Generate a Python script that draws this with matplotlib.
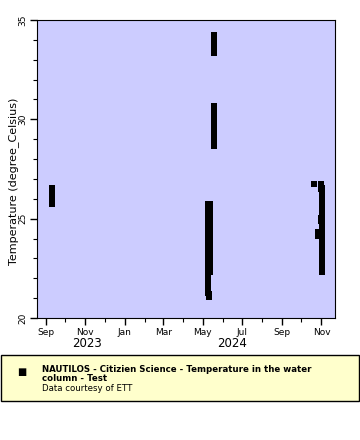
import numpy as np
import matplotlib
matplotlib.use("Agg")
import matplotlib.pyplot as plt
import matplotlib.dates as mdates
from matplotlib.patches import Rectangle
from datetime import datetime

# profiles: date -> temperatures (degree_Celsius)
dates = [
    "2023-09-10", "2024-05-09", "2024-05-10", "2024-05-12", "2024-05-18",
    "2024-10-20", "2024-10-27", "2024-10-31", "2024-11-02",
]
temps = [
    [25.75, 25.9, 26.05, 26.2, 26.35, 26.55],
    [25.75, 25.5, 25.25, 25.0, 24.75, 24.5, 24.25, 24.0, 23.75, 23.5, 23.25,
     23.0, 22.75, 22.5, 22.25, 22.0, 21.75, 21.5, 21.25],
    [21.05, 21.2],
    [25.75, 25.5, 25.25, 25.0, 24.75, 24.5, 24.25, 24.0, 23.75, 23.5, 23.25,
     23.0, 22.75, 22.5, 22.3],
    [34.25, 34.0, 33.75, 33.5, 33.35,
     30.65, 30.4, 30.15, 29.9, 29.65, 29.4, 29.15, 28.9, 28.65],
    [26.75],
    [24.35, 24.15],
    [26.75, 26.5, 25.05, 24.9],
    [26.55, 26.3, 26.05, 25.8, 25.55, 25.3, 25.05, 24.8, 24.55, 24.3, 24.05,
     23.8, 23.55, 23.3, 23.05, 22.8, 22.55, 22.3],
]

x_start = datetime(2023, 8, 18)
x_end = datetime(2024, 11, 22)

fig = plt.figure(figsize=(3.6, 4.4), dpi=100)
ax = fig.add_axes([37/360, 1 - 318/440, 298/360, 298/440])
ax.set_facecolor("#ccccff")

for d, t in zip(dates, temps):
    dt = datetime.strptime(d, "%Y-%m-%d")
    ax.scatter([dt] * len(t), t, marker="s", s=16, c="black", linewidths=0)

ax.set_xlim(x_start, x_end)
ax.set_ylim(20, 35)
ax.set_yticks([20, 25, 30, 35])
ax.yaxis.set_minor_locator(matplotlib.ticker.MultipleLocator(1))
ax.xaxis.set_major_locator(mdates.MonthLocator(bymonth=[1, 3, 5, 7, 9, 11]))
ax.xaxis.set_minor_locator(mdates.MonthLocator())
ax.xaxis.set_major_formatter(mdates.DateFormatter("%b"))
ax.tick_params(which="major", length=5, width=1, labelsize=6.5, pad=2)
ax.tick_params(which="minor", length=3, width=0.8)
for lbl in ax.get_yticklabels():
    lbl.set_rotation(90)
    lbl.set_va("center")
ax.set_ylabel("Temperature (degree_Celsius)", fontsize=8)
ax.yaxis.set_label_coords(-0.062, 0.46)

fig.text(87/360, 1 - 350/440, "2023", fontsize=8.5, ha="center", va="bottom")
fig.text(232/360, 1 - 350/440, "2024", fontsize=8.5, ha="center", va="bottom")

# legend box
fig.patches.append(Rectangle((0.5/360, 1 - 401/440), 358.5/360, 46/440,
                             transform=fig.transFigure, facecolor="#ffffcc",
                             edgecolor="black", linewidth=1))
fig.text(21.5/360, 1 - 371.5/440, "\u25a0", fontsize=7, ha="center", va="center")
fig.text(42/360, 1 - 365/440, "NAUTILOS - Citizien Science - Temperature in the water\ncolumn - Test",
         fontsize=6.2, fontweight="bold", ha="left", va="top", linespacing=0.95)
fig.text(42/360, 1 - 384/440, "Data courtesy of ETT", fontsize=6.2, ha="left", va="top")

fig.savefig("out.png", dpi=100)
